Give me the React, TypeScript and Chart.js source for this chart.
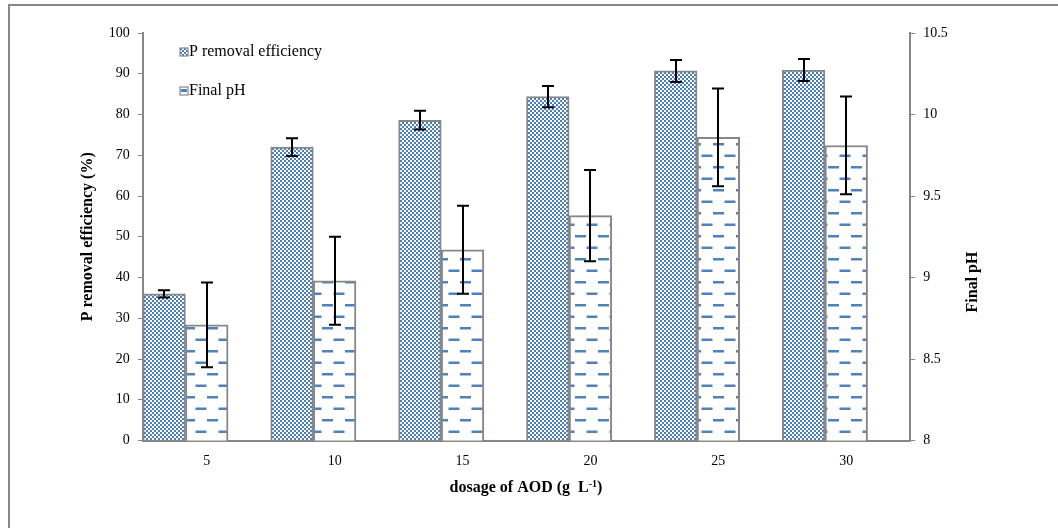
import React, { useEffect, useRef } from 'react';
import { Chart, registerables } from 'chart.js';

Chart.register(...registerables);

const categories = ['5', '10', '15', '20', '25', '30'];
const pRemoval = [36.0, 72.0, 78.6, 84.4, 90.7, 90.9];
const pRemovalErr = [0.9, 2.2, 2.3, 2.6, 2.7, 2.7];
const finalPH = [8.71, 8.98, 9.17, 9.38, 9.86, 9.81];
const finalPHErr = [0.26, 0.27, 0.27, 0.28, 0.3, 0.3];
const seriesNames = ['P removal efficiency', 'Final pH'];
const leftTitle = 'P removal efficiency (%)';
const rightTitle = 'Final pH';
const xTitleMain = 'dosage of AOD (g  L';
const xTitleSup = '-1';
const xTitleEnd = ')';

const BLUE = '#4f81bd';
const GRAY = '#878787';
const FONT = "'Liberation Serif', 'Times New Roman', serif";

function makeChecker(ctx: CanvasRenderingContext2D) {
  const c = document.createElement('canvas');
  c.width = 4;
  c.height = 4;
  const g = c.getContext('2d')!;
  g.fillStyle = '#ffffff';
  g.fillRect(0, 0, 4, 4);
  g.fillStyle = '#4a7ebb';
  g.fillRect(0, 0, 2, 2);
  g.fillRect(2, 2, 2, 2);
  return ctx.createPattern(c, 'repeat')!;
}

function makeDashes(ctx: CanvasRenderingContext2D) {
  const c = document.createElement('canvas');
  c.width = 23;
  c.height = 23;
  const g = c.getContext('2d')!;
  g.fillStyle = '#ffffff';
  g.fillRect(0, 0, 23, 23);
  g.fillStyle = BLUE;
  g.fillRect(0, 5, 11, 2.5);
  g.fillRect(11.5, 16.5, 11, 2.5);
  return ctx.createPattern(c, 'repeat')!;
}

export default function App() {
  const ref = useRef<HTMLCanvasElement | null>(null);

  useEffect(() => {
    const canvas = ref.current!;
    const ctx0 = canvas.getContext('2d')!;
    const checker = makeChecker(ctx0);
    const dashes = makeDashes(ctx0);

    const errorBars = {
      id: 'errorBars',
      afterDatasetsDraw(chart: any) {
        const ctx = chart.ctx;
        const sets: [number, number[], number[], string][] = [
          [0, pRemoval, pRemovalErr, 'y'],
          [1, finalPH, finalPHErr, 'y1'],
        ];
        ctx.save();
        ctx.strokeStyle = '#000000';
        ctx.lineWidth = 2;
        sets.forEach(([di, vals, errs, axis]) => {
          const meta = chart.getDatasetMeta(di);
          const scale = chart.scales[axis];
          meta.data.forEach((bar: any, i: number) => {
            const top = scale.getPixelForValue(vals[i] + errs[i]);
            const bot = scale.getPixelForValue(vals[i] - errs[i]);
            const x = Math.round(bar.x);
            ctx.beginPath();
            ctx.moveTo(x, top);
            ctx.lineTo(x, bot);
            ctx.moveTo(x - 6, top);
            ctx.lineTo(x + 6, top);
            ctx.moveTo(x - 6, bot);
            ctx.lineTo(x + 6, bot);
            ctx.stroke();
          });
        });
        ctx.restore();
      },
    };

    const decorations = {
      id: 'decorations',
      afterDraw(chart: any) {
        const ctx = chart.ctx;
        const area = chart.chartArea;
        ctx.save();
        // outer frame
        ctx.strokeStyle = GRAY;
        ctx.lineWidth = 2;
        ctx.beginPath();
        ctx.moveTo(9, 600);
        ctx.lineTo(9, 5);
        ctx.lineTo(1100, 5);
        ctx.stroke();

        ctx.fillStyle = '#000000';
        // left title
        ctx.font = `bold 16px ${FONT}`;
        ctx.textAlign = 'center';
        ctx.textBaseline = 'middle';
        ctx.save();
        ctx.translate(88, (area.top + area.bottom) / 2);
        ctx.rotate(-Math.PI / 2);
        ctx.fillText(leftTitle, 0, 0);
        ctx.restore();
        // right title
        ctx.save();
        ctx.translate(973, 282);
        ctx.rotate(-Math.PI / 2);
        ctx.fillText(rightTitle, 0, 0);
        ctx.restore();
        // x title
        ctx.font = `bold 16px ${FONT}`;
        const w1 = ctx.measureText(xTitleMain).width;
        ctx.font = `bold 10px ${FONT}`;
        const w2 = ctx.measureText(xTitleSup).width;
        ctx.font = `bold 16px ${FONT}`;
        const w3 = ctx.measureText(xTitleEnd).width;
        let x = 526 - (w1 + w2 + w3) / 2;
        const y = 488;
        ctx.textAlign = 'left';
        ctx.textBaseline = 'middle';
        ctx.fillText(xTitleMain, x, y);
        x += w1;
        ctx.font = `bold 10px ${FONT}`;
        ctx.fillText(xTitleSup, x, y - 4);
        x += w2;
        ctx.font = `bold 16px ${FONT}`;
        ctx.fillText(xTitleEnd, x, y);

        // legend
        seriesNames.forEach((name, i) => {
          const cy = 52 + i * 39;
          const bx = 180;
          ctx.fillStyle = i === 0 ? checker : '#ffffff';
          ctx.fillRect(bx, cy - 4, 8, 8);
          if (i === 1) {
            ctx.fillStyle = BLUE;
            ctx.fillRect(bx + 1, cy - 2, 6, 3);
          }
          ctx.strokeStyle = GRAY;
          ctx.lineWidth = 1.2;
          ctx.strokeRect(bx, cy - 4, 8, 8);
          ctx.fillStyle = '#000000';
          ctx.font = `16px ${FONT}`;
          ctx.textAlign = 'left';
          ctx.textBaseline = 'middle';
          ctx.fillText(name, bx + 9, cy);
        });
        ctx.restore();
      },
    };

    const chart = new Chart(canvas, {
      type: 'bar',
      data: {
        labels: categories,
        datasets: [
          {
            label: seriesNames[0],
            data: pRemoval,
            yAxisID: 'y',
            backgroundColor: checker,
            borderColor: GRAY,
            borderWidth: 2,
            borderSkipped: 'bottom',
          },
          {
            label: seriesNames[1],
            data: finalPH,
            yAxisID: 'y1',
            backgroundColor: dashes,
            borderColor: GRAY,
            borderWidth: 2,
            borderSkipped: 'bottom',
          },
          {
            label: '',
            data: categories.map(() => null),
            yAxisID: 'y',
            backgroundColor: 'rgba(0,0,0,0)',
            borderWidth: 0,
          },
        ],
      },
      options: {
        responsive: false,
        animation: false,
        devicePixelRatio: 1,
        layout: { padding: { top: 33, left: 0, right: 0, bottom: 0 } },
        datasets: { bar: { categoryPercentage: 1, barPercentage: 1 } },
        plugins: {
          legend: { display: false },
          tooltip: { enabled: false },
          title: { display: false },
        },
        scales: {
          x: {
            grid: { display: false },
            border: { display: true, color: GRAY, width: 2 },
            ticks: {
              color: '#000000',
              font: { family: FONT, size: 14 },
              padding: 4,
              maxRotation: 0,
            },
            afterFit: (s: any) => {
              s.height = 87.5;
            },
          },
          y: {
            position: 'left',
            min: 0,
            max: 100,
            grid: {
              display: true,
              drawOnChartArea: false,
              drawTicks: true,
              tickLength: 5,
              color: GRAY,
              lineWidth: 1,
            },
            border: { display: true, color: GRAY, width: 2 },
            ticks: {
              stepSize: 10,
              color: '#000000',
              font: { family: FONT, size: 14 },
              padding: 8,
              callback: (v: any) => String(v),
            },
            afterFit: (s: any) => {
              s.width = 142.8;
            },
          },
          y1: {
            position: 'right',
            min: 8,
            max: 10.5,
            grid: {
              display: true,
              drawOnChartArea: false,
              drawTicks: true,
              tickLength: 5,
              color: GRAY,
              lineWidth: 1,
            },
            border: { display: true, color: GRAY, width: 2 },
            ticks: {
              stepSize: 0.5,
              color: '#000000',
              font: { family: FONT, size: 14 },
              padding: 8,
              callback: (v: any) => String(v),
            },
            afterFit: (s: any) => {
              s.width = 147.8;
            },
          },
        },
      } as any,
      plugins: [errorBars, decorations],
    });
    return () => chart.destroy();
  }, []);

  return (
    <div style={{ position: 'absolute', left: 0, top: 0, width: 1058, height: 528, background: '#ffffff' }}>
      <canvas ref={ref} width={1058} height={528} style={{ display: 'block', width: 1058, height: 528 }} />
    </div>
  );
}
